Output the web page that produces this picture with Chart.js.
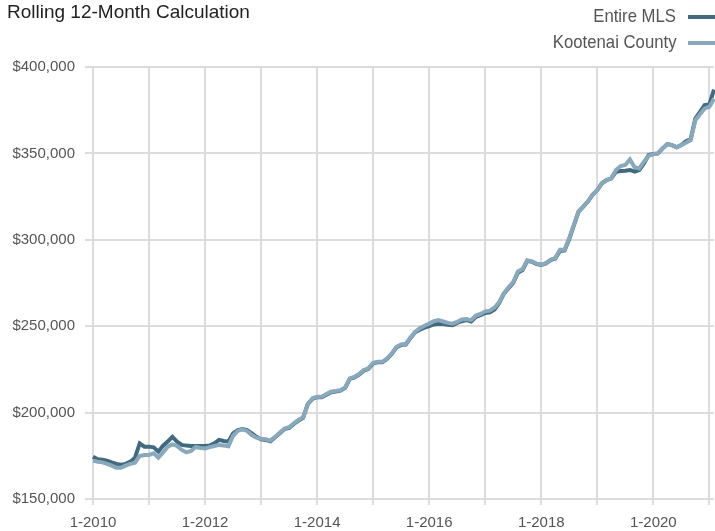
<!DOCTYPE html>
<html>
<head>
<meta charset="utf-8">
<script src="https://cdn.jsdelivr.net/npm/chart.js@4.4.1/dist/chart.umd.min.js"></script>
<style>
  html, body { margin: 0; padding: 0; background: #fff; }
  #wrap { position: relative; width: 715px; height: 531px; overflow: hidden; }
  #chart { position: absolute; left: 0; top: 0; }
  .title {
    position: absolute; left: 7px; top: 1px;
    font: 19px "Liberation Sans", sans-serif;
    color: #222;
  }
  .legend-row {
    position: absolute; right: 39px; height: 26px; line-height: 26px;
    font: 19px "Liberation Sans", sans-serif; color: #555;
    white-space: nowrap; transform: scaleX(0.88); transform-origin: right center;
  }
  .sw { position: absolute; left: 688px; width: 27px; height: 4px; }
</style>
</head>
<body>
<div id="wrap">
  <canvas id="chart" width="715" height="531"></canvas>
  <div class="title">Rolling 12-Month Calculation</div>
  <div class="legend-row" style="top:5px">Entire MLS</div>
  <div class="sw" style="top:15px;background:#41697f"></div>
  <div class="legend-row" style="top:31px">Kootenai County</div>
  <div class="sw" style="top:41px;background:#88a9bc"></div>
</div>
<script>
// monthly values in $K, 1-2010 through 2-2021
const entireMls = [
  174.5, 173.0, 172.7, 172.2, 171.2, 170.3, 169.9, 170.3, 171.6, 173.9, 182.2, 180.3,
  180.3, 179.9, 177.4, 180.9, 183.2, 186.0, 183.2, 181.3, 180.9, 180.7, 180.7, 180.7,
  180.7, 180.9, 182.2, 184.2, 183.6, 183.2, 188.0, 189.9, 190.5, 189.9, 188.0, 186.0,
  184.5, 184.2, 183.4, 185.7, 188.0, 190.5, 191.1, 193.4, 195.4, 196.9, 205.0, 207.9,
  208.9, 208.9, 210.4, 211.8, 212.2, 212.7, 214.3, 219.5, 220.4, 222.0, 224.3, 225.3,
  228.5, 229.1, 229.1, 231.1, 234.0, 237.8, 239.2, 239.4, 243.2, 246.5, 248.0, 249.2,
  250.0, 251.0, 251.4, 251.2, 250.8, 250.6, 251.9, 252.9, 253.5, 252.7, 255.4, 256.4,
  257.7, 258.0, 259.6, 263.5, 268.8, 272.0, 275.0, 281.0, 282.5, 287.8, 287.3, 286.0,
  285.4, 286.3, 288.3, 289.2, 293.5, 293.8, 300.5, 308.5, 316.3, 319.2, 322.1, 326.0,
  328.8, 332.7, 334.6, 335.6, 339.4, 339.8, 340.0, 340.4, 339.4, 340.4, 344.2, 349.0,
  349.6, 350.0, 352.9, 355.4, 354.8, 353.5, 354.8, 357.0, 358.2, 370.2, 374.0, 377.9,
  378.3, 386.9
]
const kootenaiCounty = [
  172.2, 171.6, 171.2, 170.3, 169.3, 168.1, 168.1, 169.3, 170.3, 171.0, 174.9, 175.5,
  175.5, 176.5, 173.9, 177.0, 180.3, 181.6, 180.7, 178.4, 177.0, 177.8, 180.1, 179.5,
  179.3, 180.0, 180.7, 181.3, 181.0, 180.5, 186.6, 189.4, 190.3, 189.4, 187.0, 185.5,
  184.8, 184.6, 183.8, 186.0, 188.3, 190.8, 191.5, 193.8, 195.8, 197.3, 204.6, 208.3,
  209.2, 209.2, 210.8, 212.1, 212.5, 213.0, 214.6, 219.8, 220.7, 222.3, 224.6, 225.6,
  228.8, 229.4, 229.4, 231.4, 234.3, 238.1, 239.5, 239.7, 243.5, 246.8, 248.8, 250.3,
  251.5, 252.9, 253.5, 252.7, 251.9, 251.5, 252.5, 253.9, 254.2, 253.5, 256.2, 257.1,
  258.6, 259.0, 260.8, 264.0, 269.0, 272.5, 275.5, 281.7, 283.1, 288.1, 287.5, 286.2,
  285.6, 286.5, 288.5, 289.4, 294.2, 294.2, 301.0, 308.7, 316.3, 319.2, 322.1, 326.0,
  328.8, 332.7, 334.6, 335.6, 340.4, 342.7, 343.3, 346.5, 342.0, 341.3, 345.2, 348.5,
  349.6, 350.0, 352.9, 355.4, 354.8, 353.5, 354.8, 356.2, 357.7, 369.2, 372.7, 376.0,
  376.9, 381.7
]
const yTicks = [150000, 200000, 250000, 300000, 350000, 400000]

const months = []
for (let y = 2010; y <= 2021; y++) {
  for (let m = 1; m <= 12; m++) months.push(`${m}-${y}`)
}
months.length = entireMls.length

const gridColor = "#dcdcdc"
const font = { family: "'Liberation Sans', sans-serif", size: 15 }

new Chart(document.getElementById("chart"), {
  type: "line",
  data: {
    labels: months,
    datasets: [
      {
        label: "Entire MLS",
        data: entireMls.map(v => v * 1000),
        borderColor: "#41697f",
        borderWidth: 4,
        pointRadius: 0,
        tension: 0,
        order: 1
      },
      {
        label: "Kootenai County",
        data: kootenaiCounty.map(v => v * 1000),
        borderColor: "#88a9bc",
        borderWidth: 4,
        pointRadius: 0,
        tension: 0,
        order: 0
      }
    ]
  },
  options: {
    animation: false,
    responsive: false,
    layout: { padding: { top: 67, right: 1, left: 0, bottom: 0 } },
    plugins: { legend: { display: false }, tooltip: { enabled: false } },
    scales: {
      x: {
        border: { display: false },
        grid: {
          color: (ctx) => ctx.index % 12 === 0 ? gridColor : "rgba(0,0,0,0)",
          lineWidth: 2,
          tickLength: 6
        },
        ticks: {
          autoSkip: false,
          maxRotation: 0,
          padding: 9,
          color: "#555",
          font,
          callback: (v, i) => i % 24 === 0 ? months[i] : ""
        },
        afterFit: (scale) => {
          scale.height = 32
          scale.paddingLeft = 0
          scale.paddingRight = 0
        }
      },
      y: {
        min: 150000,
        max: 400000,
        border: { display: false },
        afterBuildTicks: (scale) => { scale.ticks = yTicks.map(v => ({ value: v })) },
        grid: { color: gridColor, lineWidth: 2, tickLength: 8 },
        ticks: {
          padding: 10,
          color: "#555",
          font,
          callback: (v) => "$" + v.toLocaleString("en-US")
        },
        afterFit: (scale) => { scale.width = 93 }
      }
    }
  }
})
</script>
</body>
</html>
